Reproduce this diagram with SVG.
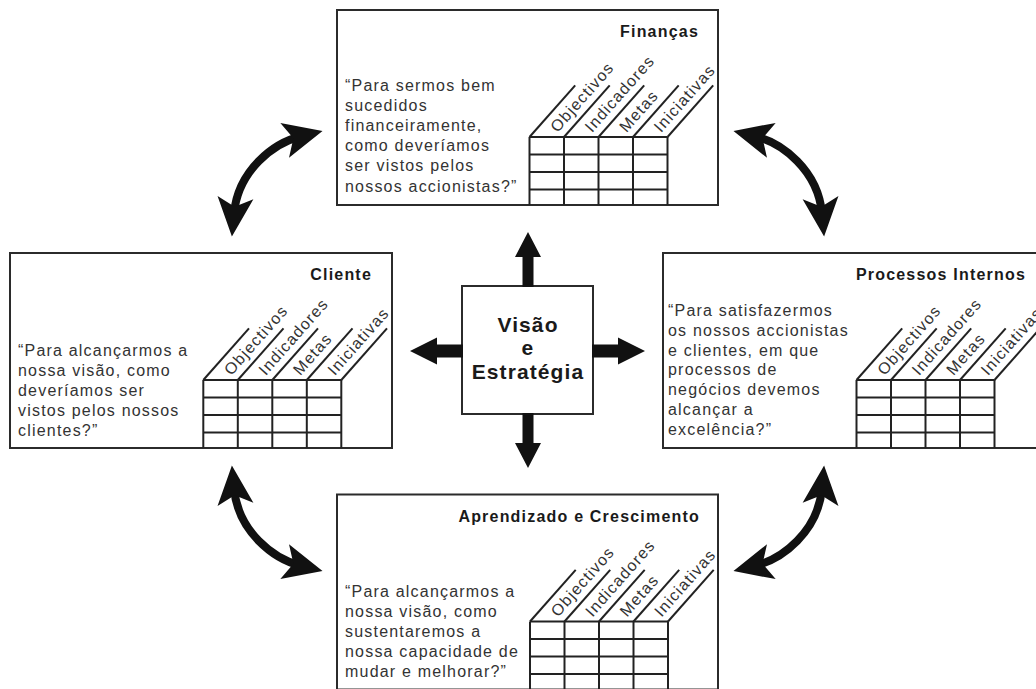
<svg xmlns="http://www.w3.org/2000/svg" width="1036" height="689" viewBox="0 0 1036 689">
<style>
.box{fill:#fff;stroke:#2b2b2b;stroke-width:2}
.title{font-family:"Liberation Sans",Arial,sans-serif;font-weight:bold;font-size:16px;letter-spacing:1.2px;fill:#1a1a1a;text-anchor:end}
.body{font-family:"Liberation Sans",Arial,sans-serif;font-size:16px;letter-spacing:1.2px;fill:#333}
.lbl{font-family:"Liberation Sans",Arial,sans-serif;font-size:16px;letter-spacing:1.2px;fill:#333}
.gl{stroke:#222;stroke-width:2}
.center{font-family:"Liberation Sans",Arial,sans-serif;font-weight:bold;font-size:21px;letter-spacing:1.1px;fill:#1a1a1a;text-anchor:middle}
.curve{fill:none;stroke:#111;stroke-width:8}
.straight{fill:#111}
</style>
<defs>
<marker id="head" markerUnits="userSpaceOnUse" viewBox="0 -20 42 40" refX="16" refY="0" markerWidth="42" markerHeight="40" orient="auto-start-reverse" overflow="visible">
<path d="M39,0 L0,-18 L9,0 L0,18 Z" fill="#111"/>
</marker>
<g id="table">
<g class="gl" stroke="#222" stroke-width="2">
<line x1="0" y1="0" x2="0" y2="68"/><line x1="34.5" y1="0" x2="34.5" y2="68"/><line x1="69" y1="0" x2="69" y2="68"/><line x1="103.5" y1="0" x2="103.5" y2="68"/><line x1="138" y1="0" x2="138" y2="68"/>
<line x1="0" y1="0" x2="138" y2="0"/><line x1="0" y1="17.5" x2="138" y2="17.5"/><line x1="0" y1="35" x2="138" y2="35"/><line x1="0" y1="52.5" x2="138" y2="52.5"/>
<line x1="0" y1="0" x2="45.7" y2="-51.7"/><line x1="34.5" y1="0" x2="80.2" y2="-51.7"/><line x1="69" y1="0" x2="114.7" y2="-51.7"/><line x1="103.5" y1="0" x2="149.2" y2="-51.7"/><line x1="138" y1="0" x2="183.7" y2="-51.7"/>
</g>
<text class="lbl" transform="translate(17.25,0) rotate(-48.5)" x="10" y="5.5">Objectivos</text>
<text class="lbl" transform="translate(51.75,0) rotate(-48.5)" x="10" y="5.5">Indicadores</text>
<text class="lbl" transform="translate(86.25,0) rotate(-48.5)" x="10" y="5.5">Metas</text>
<text class="lbl" transform="translate(120.75,0) rotate(-48.5)" x="10" y="5.5">Iniciativas</text>
</g>
</defs>

<g id="financas">
<rect class="box" x="337" y="10" width="381" height="195"/>
<text class="title" x="699" y="37">Finanças</text>
<text class="body" x="345" y="90.5">“Para sermos bem</text>
<text class="body" x="345" y="110.7">sucedidos</text>
<text class="body" x="345" y="130.9">financeiramente,</text>
<text class="body" x="345" y="151.1">como deveríamos</text>
<text class="body" x="345" y="171.3">ser vistos pelos</text>
<text class="body" x="345" y="191.5">nossos accionistas?”</text>
<use href="#table" transform="translate(529.5,137)"/>
</g>

<g id="cliente">
<rect class="box" x="10" y="253" width="382" height="195"/>
<text class="title" x="372" y="280">Cliente</text>
<text class="body" x="18" y="356">“Para alcançarmos a</text>
<text class="body" x="18" y="376">nossa visão, como</text>
<text class="body" x="18" y="396">deveríamos ser</text>
<text class="body" x="18" y="416">vistos pelos nossos</text>
<text class="body" x="18" y="436">clientes?”</text>
<use href="#table" transform="translate(203.3,380)"/>
</g>

<g id="processos">
<rect class="box" x="663" y="253" width="381" height="195"/>
<text class="title" x="1026" y="280">Processos Internos</text>
<text class="body" x="668" y="316">“Para satisfazermos</text>
<text class="body" x="668" y="335.8">os nossos accionistas</text>
<text class="body" x="668" y="355.6">e clientes, em que</text>
<text class="body" x="668" y="375.4">processos de</text>
<text class="body" x="668" y="395.2">negócios devemos</text>
<text class="body" x="668" y="415">alcançar a</text>
<text class="body" x="668" y="434.8">excelência?”</text>
<use href="#table" transform="translate(856.5,380)"/>
</g>

<g id="aprendizado">
<rect class="box" x="337" y="494.5" width="381" height="195"/>
<text class="title" x="700" y="521.7">Aprendizado e Crescimento</text>
<text class="body" x="345" y="596.7">“Para alcançarmos a</text>
<text class="body" x="345" y="616.7">nossa visão, como</text>
<text class="body" x="345" y="636.7">sustentaremos a</text>
<text class="body" x="345" y="656.7">nossa capacidade de</text>
<text class="body" x="345" y="676.7">mudar e melhorar?”</text>
<use href="#table" transform="translate(530,621.5)"/>
</g>

<g id="visao">
<rect class="box" x="462" y="286" width="131" height="128"/>
<text class="center" x="528" y="331.5">Visão</text>
<text class="center" x="528" y="355">e</text>
<text class="center" x="528" y="378.5">Estratégia</text>
</g>

<g id="connectors">
<polygon class="straight" points="522.5,287 522.5,257 515,257 528,232 541,257 533.5,257 533.5,287"/>
<polygon class="straight" points="522.5,413 522.5,443 515,443 528,468 541,443 533.5,443 533.5,413"/>
<polygon class="straight" points="463,344.5 437,344.5 437,337.5 410,351 437,364.5 437,357.5 463,357.5"/>
<polygon class="straight" points="592,344.5 618,344.5 618,337.5 645,351 618,364.5 618,357.5 592,357.5"/>
<path class="curve" d="M300.2,136.5 C274,143 238,170 234,213.6" marker-start="url(#head)" marker-end="url(#head)"/>
<path class="curve" d="M755.8,136.5 C782,143 818,170 822,213.6" marker-start="url(#head)" marker-end="url(#head)"/>
<path class="curve" d="M300.2,565.5 C274,559 238,532 234,488.4" marker-start="url(#head)" marker-end="url(#head)"/>
<path class="curve" d="M755.8,565.5 C782,559 818,532 822,488.4" marker-start="url(#head)" marker-end="url(#head)"/>
</g>
</svg>
